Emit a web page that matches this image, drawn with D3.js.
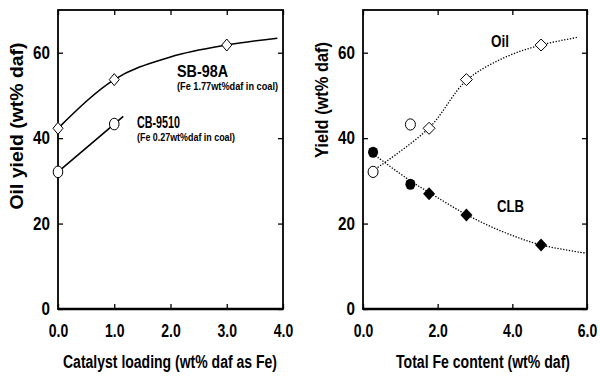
<!DOCTYPE html>
<html>
<head>
<meta charset="utf-8">
<script src="https://cdn.jsdelivr.net/npm/d3@7"></script>
<style>
  body { margin: 0; background: #fff; }
  text { font-family: "Liberation Sans", Arial, sans-serif; font-weight: bold; fill: #000; }
</style>
</head>
<body>
<div id="chart"></div>
<script>
// left panel: oil yield vs catalyst loading
const sbLoading = [0, 1, 3];
const sbOil = [42.3, 53.7, 61.8];
const cbLoading = [0, 1];
const cbOil = [32.1, 43.3];
// fitted curves
const sbFitX = [0, 1, 2, 3, 3.9];
const sbFitY = [42.3, 53.7, 59.0, 61.8, 63.4];
const cbFitX = [0, 1, 1.16];
const cbFitY = [32.1, 43.3, 45.1];

// right panel: yield vs total Fe content
const oilCircleFe = [0.27, 1.27];
const oilCircle = [32.1, 43.2];
const oilDiamondFe = [1.77, 2.77, 4.77];
const oilDiamond = [42.3, 53.7, 61.8];
const clbCircleFe = [0.27, 1.27];
const clbCircle = [36.7, 29.2];
const clbDiamondFe = [1.77, 2.77, 4.77];
const clbDiamond = [27.0, 22.0, 15.0];
const oilFitX = [0.27, 1.77, 2.77, 3.8, 4.77, 5.75];
const oilFitY = [32.4, 42.4, 53.5, 58.9, 61.8, 63.6];
const clbFitX = [0.27, 1.27, 1.77, 2.77, 3.77, 4.77, 5.95];
const clbFitY = [36.3, 30.0, 27.3, 22.1, 18.0, 15.0, 13.1];

const leftXTicks = [0, 1, 2, 3, 4];
const rightXTicks = [0, 2, 4, 6];
const yTicks = [0, 20, 40, 60];

const width = 600, height = 377;
const svg = d3.select("#chart").append("svg")
    .attr("width", width)
    .attr("height", height);

// squeeze text horizontally, the original font is a narrow one
function narrow(sel, r) {
    sel.each(function() {
        const L = this.getComputedTextLength();
        d3.select(this).attr("textLength", L * r).attr("lengthAdjust", "spacingAndGlyphs");
    });
}
function fitTo(sel, w) {
    sel.attr("textLength", w).attr("lengthAdjust", "spacingAndGlyphs");
}

function zip(xs, ys) { return xs.map((x, i) => [x, ys[i]]); }

function diamond(w, h) { return `M0,${-h}L${w},0L0,${h}L${-w},0Z`; }

// draws frame + axes, returns {g, x, y}
function panel(left, right, top, bottom, xMax, xTicks, xFmt) {
    const g = svg.append("g").attr("transform", `translate(${left}, ${top})`);
    const w = right - left, h = bottom - top;
    const x = d3.scaleLinear().domain([0, xMax]).range([0, w]);
    const y = d3.scaleLinear().domain([0, 70]).range([h, 0]);

    const bot = g.append("g").attr("transform", `translate(0, ${h})`)
        .call(d3.axisBottom(x).tickValues(xTicks).tickFormat(xFmt).tickSizeInner(-5).tickSizeOuter(0).tickPadding(16));
    const lft = g.append("g")
        .call(d3.axisLeft(y).tickValues(yTicks).tickFormat(d3.format("d")).tickSizeInner(-5).tickSizeOuter(0).tickPadding(8));
    g.append("g")
        .call(d3.axisTop(x).tickValues(xTicks).tickFormat("").tickSizeInner(-5).tickSizeOuter(0));
    g.append("g").attr("transform", `translate(${w}, 0)`)
        .call(d3.axisRight(y).tickValues(yTicks).tickFormat("").tickSizeInner(-5).tickSizeOuter(0));

    g.selectAll(".domain").remove();
    g.selectAll(".tick line").attr("stroke", "#000").attr("stroke-width", 1.3);
    g.selectAll(".tick text")
        .style("font-family", "'Liberation Sans', Arial, sans-serif")
        .style("font-weight", "bold")
        .style("font-size", "17.5px")
        .attr("fill", "#000");
    narrow(bot.selectAll(".tick text"), 0.8);
    narrow(lft.selectAll(".tick text"), 0.87);

    // frame
    g.append("rect")
        .attr("width", w).attr("height", h)
        .attr("fill", "none").attr("stroke", "#000").attr("stroke-width", 1.8);
    g.append("line")
        .attr("x1", 0).attr("x2", w).attr("y1", h).attr("y2", h)
        .attr("stroke", "#000").attr("stroke-width", 2.4);
    return { g, x, y };
}

const fmt1 = d3.format(".1f");

// ---------- left panel ----------
const L = panel(58, 283, 10, 309, 4, leftXTicks, fmt1);

const lineL = d3.line().x(d => L.x(d[0])).y(d => L.y(d[1])).curve(d3.curveMonotoneX);
L.g.append("path").datum(zip(sbFitX, sbFitY))
    .attr("d", lineL).attr("fill", "none").attr("stroke", "#000").attr("stroke-width", 1.6);
L.g.append("path").datum(zip(cbFitX, cbFitY))
    .attr("d", d3.line().x(d => L.x(d[0])).y(d => L.y(d[1])))
    .attr("fill", "none").attr("stroke", "#000").attr("stroke-width", 1.6);

L.g.selectAll(".sb").data(zip(sbLoading, sbOil)).enter()
    .append("path")
    .attr("transform", d => `translate(${L.x(d[0])}, ${L.y(d[1])})`)
    .attr("d", diamond(5, 6))
    .attr("fill", "#fff").attr("stroke", "#000").attr("stroke-width", 1);
L.g.selectAll(".cb").data(zip(cbLoading, cbOil)).enter()
    .append("ellipse")
    .attr("cx", d => L.x(d[0])).attr("cy", d => L.y(d[1]))
    .attr("rx", 4.8).attr("ry", 5.8)
    .attr("fill", "#fff").attr("stroke", "#000").attr("stroke-width", 1);

// annotations
fitTo(svg.append("text").attr("x", 177).attr("y", 77).style("font-size", "17px").text("SB-98A"), 51);
fitTo(svg.append("text").attr("x", 177).attr("y", 90).style("font-size", "11px").text("(Fe 1.77wt%daf in coal)"), 101);
fitTo(svg.append("text").attr("x", 137).attr("y", 128).style("font-size", "17px").text("CB-9510"), 43);
fitTo(svg.append("text").attr("x", 137).attr("y", 141).style("font-size", "11px").text("(Fe 0.27wt%daf in coal)"), 98);

// axis titles
fitTo(svg.append("text").attr("x", 170).attr("y", 368).attr("text-anchor", "middle")
    .style("font-size", "17.5px").text("Catalyst loading (wt% daf as Fe)"), 214);
fitTo(svg.append("text").attr("transform", "translate(23, 126) rotate(-90)").attr("text-anchor", "middle")
    .style("font-size", "17.5px").text("Oil yield (wt% daf)"), 167);

// ---------- right panel ----------
const R = panel(363, 587, 10, 309, 6, rightXTicks, fmt1);

const lineR = d3.line().x(d => R.x(d[0])).y(d => R.y(d[1])).curve(d3.curveCatmullRom.alpha(0.5));
[zip(oilFitX, oilFitY), zip(clbFitX, clbFitY)].forEach(pts => {
    R.g.append("path").datum(pts)
        .attr("d", lineR).attr("fill", "none").attr("stroke", "#000")
        .attr("stroke-width", 1.3).attr("stroke-dasharray", "1.3,1.6");
});

R.g.selectAll(".oc").data(zip(oilCircleFe, oilCircle)).enter()
    .append("ellipse")
    .attr("cx", d => R.x(d[0])).attr("cy", d => R.y(d[1]))
    .attr("rx", 5).attr("ry", 5.6)
    .attr("fill", "#fff").attr("stroke", "#000").attr("stroke-width", 1);
R.g.selectAll(".od").data(zip(oilDiamondFe, oilDiamond)).enter()
    .append("path")
    .attr("transform", d => `translate(${R.x(d[0])}, ${R.y(d[1])})`)
    .attr("d", diamond(6, 6))
    .attr("fill", "#fff").attr("stroke", "#000").attr("stroke-width", 1);
R.g.selectAll(".cc").data(zip(clbCircleFe, clbCircle)).enter()
    .append("ellipse")
    .attr("cx", d => R.x(d[0])).attr("cy", d => R.y(d[1]))
    .attr("rx", 5).attr("ry", 5.6)
    .attr("fill", "#000");
R.g.selectAll(".cd").data(zip(clbDiamondFe, clbDiamond)).enter()
    .append("path")
    .attr("transform", d => `translate(${R.x(d[0])}, ${R.y(d[1])})`)
    .attr("d", diamond(6, 6.5))
    .attr("fill", "#000");

fitTo(svg.append("text").attr("x", 491).attr("y", 47).style("font-size", "17px").text("Oil"), 18);
fitTo(svg.append("text").attr("x", 497).attr("y", 212).style("font-size", "17px").text("CLB"), 27);

fitTo(svg.append("text").attr("x", 483).attr("y", 368).attr("text-anchor", "middle")
    .style("font-size", "17.5px").text("Total Fe content (wt% daf)"), 174);
fitTo(svg.append("text").attr("transform", "translate(328, 100) rotate(-90)").attr("text-anchor", "middle")
    .style("font-size", "17.5px").text("Yield (wt% daf)"), 116);
</script>
</body>
</html>
